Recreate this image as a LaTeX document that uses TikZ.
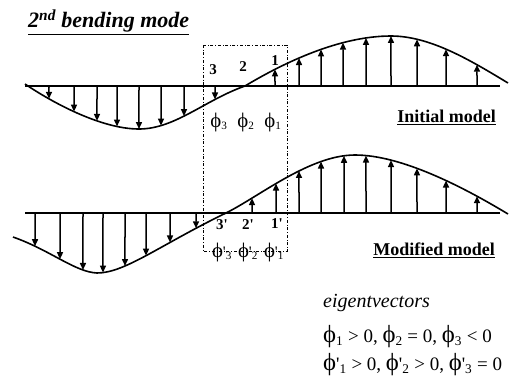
\documentclass[tikz,border=0pt]{standalone}
\usepackage{fontspec}
\setmainfont{Liberation Serif}[Ligatures=TeXOff]
\usetikzlibrary{arrows.meta, intersections}
\newcommand{\ph}{\scalebox{1.3}{\char"03D5}}

\begin{document}
\begin{tikzpicture}[
    x=1pt, y=-1pt,
    every node/.style={inner sep=0pt},
    axisline/.style={line width=1.8pt},
    modeline/.style={line width=1.6pt},
    vec/.style={-{Triangle[length=7pt,width=6pt]}, line width=1.5pt},
    region/.style={dash dot, line width=0.7pt},
    pointlabel/.style={font=\bfseries\fontsize{15}{15}\selectfont},
    philabel/.style={font=\fontsize{16}{16}\selectfont},
    caption/.style={anchor=east, font=\bfseries\fontsize{18}{18}\selectfont},
    eqline/.style={anchor=west, font=\fontsize{19}{19}\selectfont}
]
\useasboundingbox (0,0) rectangle (509,376);

% Title
\node (title) [anchor=west, font=\bfseries\itshape\fontsize{22}{22}\selectfont] at (28,22)
    {\underline{2\textsuperscript{nd} bending mode}};

% Initial model
\draw[axisline] (25,86) -- (500,86);
\draw[modeline, name path=initmode] (25,84) .. controls (50,101) and (100,129) .. (139,129)
    .. controls (175,129) and (205,100) .. (245,86)
    .. controls (285,62) and (340,36) .. (391,36)
    .. controls (430,36) and (470,60) .. (508,83);
\foreach \x in {49,74,97,117,139,161,184,215,275,299,321,343,366,391,417,446,477} {
    \path[name path=probe] (\x,0) -- (\x,160);
    \draw[vec, name intersections={of=initmode and probe, by=tip}] (\x,86) -- (tip);
}

\node (p3) [pointlabel] at (213,70) {3};
\node (p2) [pointlabel] at (243,67) {2};
\node (p1) [pointlabel] at (275,61) {1};
\node (phi3) [philabel] at (219,122) {\ph\textsubscript{3}};
\node (phi2) [philabel] at (246,122) {\ph\textsubscript{2}};
\node (phi1) [philabel] at (273,122) {\ph\textsubscript{1}};
\node (initial) [caption] at (496,117) {\underline{Initial model}};

% Modified model
\draw[axisline] (25,213) -- (500,213);
\draw[modeline, name path=modmode] (13,237) .. controls (50,250) and (75,272) .. (97,273)
    .. controls (125,273) and (160,245) .. (226,213)
    .. controls (260,196) and (310,155) .. (355,155)
    .. controls (400,155) and (460,185) .. (508,214);
\foreach \x in {35,60,83,103,125,146,170,196,252,276,299,321,344,366,391,417,446,477} {
    \path[name path=probe] (\x,130) -- (\x,300);
    \draw[vec, name intersections={of=modmode and probe, by=tip}] (\x,213) -- (tip);
}

\node (q3) [pointlabel] at (222,225) {3'};
\node (q2) [pointlabel] at (248,225) {2'};
\node (q1) [pointlabel] at (277,224) {1'};
\node (phiq3) [philabel] at (222,252) {\ph'\textsubscript{3}};
\node (phiq2) [philabel] at (248,252) {\ph'\textsubscript{2}};
\node (phiq1) [philabel] at (274,252) {\ph'\textsubscript{1}};
\node (modified) [caption] at (495,250) {\underline{Modified model}};

% compared region
\draw[region] (203,45) rectangle (287,251);

% Eigenvectors
\node (eig) [eqline, font=\itshape\fontsize{20}{20}\selectfont] at (323,303) {eigentvectors};
\node (cond1) [eqline] at (323,337)
    {\ph\textsubscript{1} > 0, \ph\textsubscript{2} = 0, \ph\textsubscript{3} < 0};
\node (cond2) [eqline] at (323,365)
    {\ph'\textsubscript{1} > 0, \ph'\textsubscript{2} > 0, \ph'\textsubscript{3} = 0};

\end{tikzpicture}
\end{document}
